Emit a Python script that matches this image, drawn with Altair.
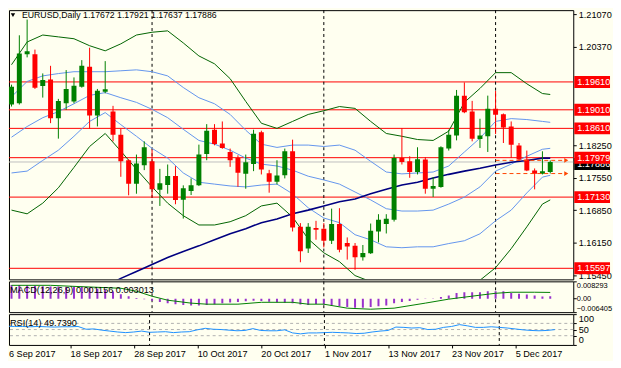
import altair as alt
import pandas as pd

FONT = "Liberation Sans"
FS = 9.2

# ---------------- data ----------------
tick_bars = [0, 8, 16, 24, 32, 40, 48, 56, 64]
tick_labels = ["6 Sep 2017", "18 Sep 2017", "28 Sep 2017", "10 Oct 2017", "20 Oct 2017",
               "1 Nov 2017", "13 Nov 2017", "23 Nov 2017", "5 Dec 2017"]
month_start_bars = [18, 40, 62]

opens = [1.19123, 1.19151, 1.20208, 1.20204, 1.19523, 1.19664, 1.18830, 1.19151, 1.19187, 1.19508,
         1.19936, 1.18887, 1.19401, 1.18973, 1.18474, 1.17924, 1.17417, 1.17817, 1.17903, 1.17289,
         1.17389, 1.17582, 1.17075, 1.17261, 1.17383, 1.18059, 1.18581, 1.18282, 1.18102, 1.17974,
         1.17631, 1.17845, 1.18524, 1.17646, 1.17460, 1.17603, 1.18117, 1.16491, 1.16026, 1.16463,
         1.16448, 1.16191, 1.16549, 1.16142, 1.16084, 1.15834, 1.15919, 1.16390, 1.16549, 1.16640,
         1.17974, 1.17903, 1.17668, 1.17939, 1.17310, 1.17347, 1.18175, 1.18459, 1.19315, 1.18973,
         1.18380, 1.18438, 1.19031, 1.18915, 1.18652, 1.18239, 1.17939, 1.17704, 1.17631, 1.17672]
highs = [1.19551, 1.20614, 1.20953, 1.20306, 1.19793, 1.19957, 1.19245, 1.19865, 1.19707, 1.20079,
         1.20347, 1.19459, 1.20058, 1.19095, 1.18603, 1.17946, 1.18046, 1.18331, 1.18153, 1.17738,
         1.17832, 1.17796, 1.17383, 1.17533, 1.18260, 1.18701, 1.18701, 1.18759, 1.18175, 1.18031,
         1.18046, 1.18581, 1.18560, 1.17717, 1.17924, 1.18175, 1.18367, 1.16570, 1.16570, 1.16619,
         1.16570, 1.16882, 1.16891, 1.16262, 1.16142, 1.16099, 1.16561, 1.16762, 1.16762, 1.18046,
         1.18616, 1.18010, 1.18203, 1.17989, 1.17561, 1.18224, 1.18581, 1.19437, 1.19600, 1.19202,
         1.18817, 1.19315, 1.19416, 1.18930, 1.18759, 1.18295, 1.18132, 1.17747, 1.18117, 1.17921]
lows = [1.19080, 1.19123, 1.20139, 1.19459, 1.19273, 1.18723, 1.18389, 1.19009, 1.19151, 1.19487,
        1.18603, 1.18652, 1.19365, 1.18331, 1.17567, 1.17169, 1.17203, 1.17711, 1.17118, 1.16940,
        1.17203, 1.16976, 1.16668, 1.17175, 1.17368, 1.17924, 1.18245, 1.18170, 1.17781, 1.17353,
        1.17310, 1.17689, 1.17618, 1.17225, 1.17404, 1.17533, 1.16390, 1.15727, 1.15928, 1.16212,
        1.16048, 1.16120, 1.15941, 1.15784, 1.15564, 1.15763, 1.15906, 1.16155, 1.16347, 1.16604,
        1.17832, 1.17546, 1.17618, 1.17203, 1.17133, 1.17332, 1.18132, 1.18352, 1.18937, 1.18331,
        1.18188, 1.18102, 1.18487, 1.18295, 1.17974, 1.17918, 1.17689, 1.17297, 1.17618, 1.17637]
closes = [1.19508, 1.20221, 1.20272, 1.19487, 1.19651, 1.18830, 1.19202, 1.19459, 1.19529, 1.19957,
          1.18887, 1.19422, 1.19450, 1.18474, 1.17903, 1.17417, 1.17854, 1.18203, 1.17297, 1.17426,
          1.17582, 1.17068, 1.17319, 1.17383, 1.18046, 1.18560, 1.18273, 1.18188, 1.17924, 1.17653,
          1.17882, 1.18496, 1.17725, 1.17460, 1.17597, 1.18117, 1.16476, 1.15962, 1.16491, 1.16427,
          1.16191, 1.16549, 1.15998, 1.16069, 1.15834, 1.15928, 1.16405, 1.16640, 1.16662, 1.17974,
          1.17888, 1.17668, 1.17946, 1.17310, 1.17368, 1.18203, 1.18474, 1.19315, 1.18958, 1.18389,
          1.18459, 1.19031, 1.18902, 1.18631, 1.18260, 1.17939, 1.17704, 1.17631, 1.17689, 1.17886]

band_bars = [0, 2, 4, 6, 8, 10, 12, 14, 16, 18, 20, 22, 24, 26, 28, 30, 32, 34, 36, 38,
             40, 42, 44, 46, 48, 50, 52, 54, 56, 58, 60, 62, 64, 66, 68, 69]
bb2_upper = [1.1998, 1.2047, 1.2062, 1.2058, 1.2054, 1.2039, 1.2028, 1.2043, 1.2062, 1.2068,
             1.2071, 1.2045, 1.2017, 1.2000, 1.1968, 1.1919, 1.1872, 1.1861, 1.1876, 1.1891,
             1.1899, 1.1908, 1.1904, 1.1876, 1.1850, 1.1844, 1.1837, 1.1835, 1.1855, 1.1917,
             1.1947, 1.1981, 1.1981, 1.1957, 1.1936, 1.1934]
bb1_upper = [1.1929, 1.1962, 1.1974, 1.1979, 1.1983, 1.1983, 1.1983, 1.1985, 1.1987, 1.1983,
             1.1974, 1.1949, 1.1927, 1.1914, 1.1891, 1.1857, 1.1827, 1.1820, 1.1825, 1.1825,
             1.1822, 1.1825, 1.1814, 1.1790, 1.1767, 1.1763, 1.1765, 1.1767, 1.1780, 1.1810,
             1.1840, 1.1876, 1.1882, 1.1880, 1.1876, 1.1874]
bb_middle = [1.1842, 1.1865, 1.1884, 1.1897, 1.1914, 1.1932, 1.1938, 1.1927, 1.1917, 1.1902,
             1.1884, 1.1859, 1.1835, 1.1827, 1.1814, 1.1797, 1.1784, 1.1780, 1.1771, 1.1758,
             1.1750, 1.1741, 1.1724, 1.1707, 1.1688, 1.1683, 1.1683, 1.1685, 1.1698, 1.1713,
             1.1735, 1.1769, 1.1784, 1.1801, 1.1816, 1.1818]
bb1_lower = [1.1765, 1.1769, 1.1792, 1.1814, 1.1844, 1.1876, 1.1895, 1.1869, 1.1844, 1.1818,
             1.1797, 1.1765, 1.1745, 1.1741, 1.1737, 1.1735, 1.1739, 1.1741, 1.1720, 1.1690,
             1.1668, 1.1658, 1.1632, 1.1621, 1.1606, 1.1604, 1.1606, 1.1606, 1.1613, 1.1619,
             1.1634, 1.1662, 1.1685, 1.1722, 1.1756, 1.1760]
bb2_lower = [1.1685, 1.1677, 1.1700, 1.1733, 1.1777, 1.1822, 1.1850, 1.1812, 1.1773, 1.1735,
             1.1700, 1.1673, 1.1653, 1.1653, 1.1660, 1.1673, 1.1694, 1.1700, 1.1670, 1.1623,
             1.1593, 1.1574, 1.1544, 1.1531, 1.1523, 1.1525, 1.1527, 1.1523, 1.1525, 1.1523,
             1.1534, 1.1561, 1.1602, 1.1649, 1.1698, 1.1707]

ma_bars = [13, 14, 16, 18, 20, 22, 24, 26, 28, 30, 32, 34, 36, 38, 40, 42, 44, 46, 48, 50,
           52, 54, 56, 58, 60, 62, 64, 66, 68, 69]
ma_long = [1.1529, 1.1538, 1.1553, 1.1568, 1.1583, 1.1596, 1.1608, 1.1621, 1.1634, 1.1645,
           1.1658, 1.1666, 1.1677, 1.1685, 1.1694, 1.1703, 1.1709, 1.1720, 1.1730, 1.1739,
           1.1745, 1.1754, 1.1762, 1.1769, 1.1775, 1.1782, 1.1788, 1.1792, 1.1797, 1.1797]

level_prices = [1.19610, 1.19010, 1.18610, 1.17979, 1.17130, 1.15597]
level_labels = ["1.19610", "1.19010", "1.18610", "1.17979", "1.17130", "1.15597"]
bid_price = 1.17886
day_high = 1.17921
day_low = 1.17637
price_ticks = [1.21070, 1.20370, 1.18250, 1.17550, 1.16850, 1.16150, 1.15450]

macd_hist = [0.0066, 0.0065, 0.0064, 0.0062, 0.0060, 0.0058, 0.0058, 0.0057, 0.0057, 0.0058,
             0.0052, 0.0048, 0.0042, 0.0034, 0.0022, 0.0012, 0.0003, -0.0002, -0.0010, -0.0016,
             -0.0022, -0.0026, -0.0030, -0.0032, -0.0032, -0.0030, -0.0026, -0.0022, -0.0018, -0.0015,
             -0.0012, -0.0010, -0.0011, -0.0014, -0.0017, -0.0019, -0.0022, -0.0028, -0.0030, -0.0025,
             -0.0027, -0.0032, -0.0036, -0.0040, -0.0043, -0.0043, -0.0040, -0.0036, -0.0032, -0.0021,
             -0.0016, -0.0011, -0.0005, -0.0001, 0.0001, 0.0008, 0.0016, 0.0027, 0.0031, 0.0031,
             0.0031, 0.0036, 0.0036, 0.0036, 0.0027, 0.0024, 0.0020, 0.0016, 0.0011, 0.001156]
signal_bars = [0, 5, 8, 14, 16, 18, 20, 23, 25, 29, 32, 36, 38, 40, 43, 46, 49, 53, 56, 60,
               62, 64, 67, 69]
signal_vals = [0.0064, 0.0064, 0.0059, 0.0050, 0.0036, 0.0012, -0.0007, -0.0021, -0.0026, -0.0026,
               -0.0017, -0.0017, -0.0026, -0.0026, -0.0045, -0.0050, -0.0045, -0.0021, -0.0002, 0.0017,
               0.0026, 0.0031, 0.0031, 0.003013]
macd_ticks = [0.008293, 0.0, -0.006405]

rsi_vals = [61, 60, 60, 59, 60, 59, 58, 59, 59, 60, 51, 52, 48, 45, 42, 40, 42, 45, 41, 42,
            43, 40, 42, 43, 49, 54, 51, 50, 48, 46, 47, 53, 47, 46, 46, 49, 39, 36, 39, 39,
            40, 41, 40, 39, 37, 38, 42, 45, 47, 58, 57, 55, 56, 50, 51, 57, 60, 66, 62, 57,
            57, 59, 57, 55, 52, 49, 47, 46, 47, 49.739]
rsi_levels = [70, 50, 30]
rsi_ticks = [100, 70, 50, 30, 0]

title_text = "EURUSD,Daily  1.17672 1.17921 1.17637 1.17886"
macd_text = "MACD(12,26,9) 0.001156 0.003013"
rsi_text = "RSI(14) 49.7390"

# ---------------- frames ----------------
n = len(opens)
df = pd.DataFrame({"bar": list(range(n)), "open": opens, "high": highs, "low": lows, "close": closes})
df["dir"] = ["up" if c >= o else "down" for o, c in zip(opens, closes)]

bands = pd.DataFrame({"bar": band_bars, "gu": bb2_upper, "bu": bb1_upper, "mid": bb_middle,
                      "bl": bb1_lower, "gl": bb2_lower})
ma = pd.DataFrame({"bar": ma_bars, "v": ma_long})
levels = pd.DataFrame({"price": level_prices, "label": level_labels})
bid = pd.DataFrame({"price": [bid_price], "label": ["1.17886"]})
hl = pd.DataFrame({"price": [day_high, day_low], "start": [62, 62], "end": [70.8, 70.8],
                   "tip": [71.05, 71.05]})
seps = pd.DataFrame({"bar": month_start_bars})
macd_df = pd.DataFrame({"bar": list(range(n)), "v": macd_hist})
sig_df = pd.DataFrame({"bar": signal_bars, "v": signal_vals})
rsi_df = pd.DataFrame({"bar": list(range(n)), "v": rsi_vals})
rsi_lv = pd.DataFrame({"v": rsi_levels})

W = 568
RIGHT = 605  # right edge of the drawing (keeps the page from overflowing)
xs = alt.Scale(domain=[0.3125, 71.3125], nice=False, zero=False)
ys = alt.Scale(domain=[1.153586, 1.211556], nice=False, zero=False)
X = lambda f: alt.X(f, type="quantitative", scale=xs, axis=None)

price_axis = alt.Axis(orient="right", values=price_ticks, format=".5f", title=None, grid=False,
                      domain=False, ticks=True, tickSize=3, tickColor="black", labelPadding=2,
                      labelFont=FONT, labelFontSize=FS, labelColor="black")
Yp = lambda f: alt.Y(f, type="quantitative", scale=ys, axis=price_axis)

base = alt.Chart(df)

level_rules = alt.Chart(levels).mark_rule(color="#FF0000", strokeWidth=1).encode(y=Yp("price"))
bid_rule = alt.Chart(bid).mark_rule(color="#C0C0C0", strokeWidth=1).encode(y=Yp("price"))
sep_main = alt.Chart(seps).mark_rule(color="black", strokeDash=[3, 3], strokeWidth=1).encode(x=X("bar"))

def band_line(col, color, width=1.0):
    return alt.Chart(bands).mark_line(color=color, strokeWidth=width, clip=True).encode(
        x=X("bar"), y=Yp(col))

green_c = "#006400"
blue_c = "#6495ED"
lines = [band_line("gu", green_c), band_line("gl", green_c),
         band_line("bu", blue_c), band_line("mid", blue_c), band_line("bl", blue_c)]
ma_line = alt.Chart(ma).mark_line(color="#000080", strokeWidth=1.6, clip=True).encode(x=X("bar"), y=Yp("v"))

cscale = alt.Scale(domain=["up", "down"], range=["#008000", "#FF0000"])
wicks = base.mark_rule(strokeWidth=1, clip=True).encode(
    x=X("bar"), y=Yp("low"), y2="high", color=alt.Color("dir:N", scale=cscale, legend=None))
bodies = base.mark_bar(size=5, clip=True).encode(
    x=X("bar"), y=Yp("open"), y2="close", color=alt.Color("dir:N", scale=cscale, legend=None))

hl_rules = alt.Chart(hl).mark_rule(color="#FF4500", strokeDash=[4, 3], strokeWidth=1).encode(
    x=X("start"), x2="end", y=Yp("price"))
hl_tips = alt.Chart(hl).mark_point(shape="triangle-right", filled=True, color="#FF4500", size=22,
                                   opacity=1).encode(x=X("tip"), y=Yp("price"))

bid_box = alt.Chart(bid).mark_rect(color="black", yOffset=-4, y2Offset=8).encode(
    y=Yp("price"), y2="price", x=alt.value(W + 1), x2=alt.value(RIGHT))
bid_txt = alt.Chart(bid).mark_text(align="left", baseline="middle", color="white", font=FONT,
                                   fontSize=FS, dy=2).encode(y=Yp("price"), text="label:N",
                                                             x=alt.value(W + 4))
lvl_box = alt.Chart(levels).mark_rect(color="#FF0000", yOffset=-6, y2Offset=6).encode(
    y=Yp("price"), y2="price", x=alt.value(W + 1), x2=alt.value(RIGHT))
lvl_txt = alt.Chart(levels).mark_text(align="left", baseline="middle", color="white", font=FONT,
                                      fontSize=FS).encode(y=Yp("price"), text="label:N", x=alt.value(W + 4))

tdf = pd.DataFrame({"t": [title_text]})
title_mark = alt.Chart(tdf).mark_text(align="left", baseline="middle", font=FONT, fontSize=8.8,
                                      color="black").encode(text="t:N", x=alt.value(13), y=alt.value(5))
tri = alt.Chart(tdf).mark_point(shape="triangle-down", filled=True, color="black", size=20,
                                opacity=1).encode(x=alt.value(4), y=alt.value(5))

main = alt.layer(level_rules, bid_rule, sep_main, *lines, ma_line, wicks, bodies, hl_rules, hl_tips,
                 bid_box, bid_txt, lvl_box, lvl_txt, title_mark, tri).properties(width=W, height=271)

# MACD panel
mscale = alt.Scale(domain=[-0.006405, 0.008293], nice=False, zero=False)
macd_axis = alt.Axis(orient="right", values=macd_ticks, title=None, grid=False, domain=False,
                     tickSize=3, tickColor="black", labelPadding=0, labelFlush=True,
                     labelExpr="datum.value == 0 ? '0.00' : format(datum.value, '.6f')",
                     labelFont=FONT, labelFontSize=7.5, labelColor="black")
hist = alt.Chart(macd_df).mark_bar(size=2, color="#9932CC", clip=True).encode(
    x=X("bar"), y=alt.Y("v:Q", scale=mscale, axis=macd_axis))
sig = alt.Chart(sig_df).mark_line(color="#008000", strokeWidth=1, clip=True).encode(
    x=X("bar"), y=alt.Y("v:Q", scale=mscale, axis=macd_axis))
sep_m = alt.Chart(seps).mark_rule(color="black", strokeDash=[3, 3]).encode(x=X("bar"))
mdf = pd.DataFrame({"t": [macd_text]})
macd_lbl = alt.Chart(mdf).mark_text(align="left", baseline="middle", font=FONT, fontSize=FS,
                                    color="black").encode(text="t:N", x=alt.value(1), y=alt.value(9))
macd_panel = alt.layer(sep_m, hist, sig, macd_lbl).properties(width=W, height=31)

# RSI panel
rscale = alt.Scale(domain=[0, 100], nice=False, zero=False)
rsi_axis = alt.Axis(orient="right", values=rsi_ticks, title=None, grid=False, domain=False,
                    tickSize=3, tickColor="black", labelPadding=2, labelFlush=True, format="d",
                    labelFont=FONT, labelFontSize=FS, labelColor="black")
label_js = "[" + ",".join("'" + s + "'" for s in tick_labels) + "]"
x_axis = alt.Axis(values=tick_bars[1:], title=None, grid=False, domain=False, tickSize=3,
                  tickColor="black", labelAlign="left", labelBaseline="top", labelPadding=2,
                  labelFont=FONT, labelFontSize=FS, labelColor="black",
                  labelBound=False, labelFlush=False, labelOverlap=False,
                  labelExpr=label_js + "[round(datum.value / 8)]")
rsi_lvl = alt.Chart(rsi_lv).mark_rule(color="#B0B0B0", strokeDash=[3, 3]).encode(
    y=alt.Y("v:Q", scale=rscale, axis=rsi_axis))
rsi_line = alt.Chart(rsi_df).mark_line(color="#1E90FF", strokeWidth=1, clip=True).encode(
    x=alt.X("bar:Q", scale=xs, axis=x_axis), y=alt.Y("v:Q", scale=rscale, axis=rsi_axis))
sep_r = alt.Chart(seps).mark_rule(color="black", strokeDash=[3, 3]).encode(
    x=alt.X("bar:Q", scale=xs, axis=x_axis))
rdf = pd.DataFrame({"t": [rsi_text]})
rsi_lbl = alt.Chart(rdf).mark_text(align="left", baseline="middle", font=FONT, fontSize=FS,
                                   color="black").encode(text="t:N", x=alt.value(1), y=alt.value(9))
first_date = alt.Chart(pd.DataFrame({"t": [tick_labels[0]]})).mark_text(
    align="left", baseline="top", font=FONT, fontSize=FS, color="black").encode(
    text="t:N", x=alt.value(0), y=alt.value(36))
rsi_panel = alt.layer(rsi_lvl, sep_r, rsi_line, rsi_lbl, first_date).properties(width=W, height=31)

chart = alt.vconcat(main, macd_panel, rsi_panel, spacing=2, bounds="flush").properties(
    padding=0, background="#FFFFF0",
).configure_view(stroke="black", strokeWidth=1, fill="#FFFFF0").configure_axis(grid=False)

chart.save("out.html", embed_options={"renderer": "svg", "actions": False})
